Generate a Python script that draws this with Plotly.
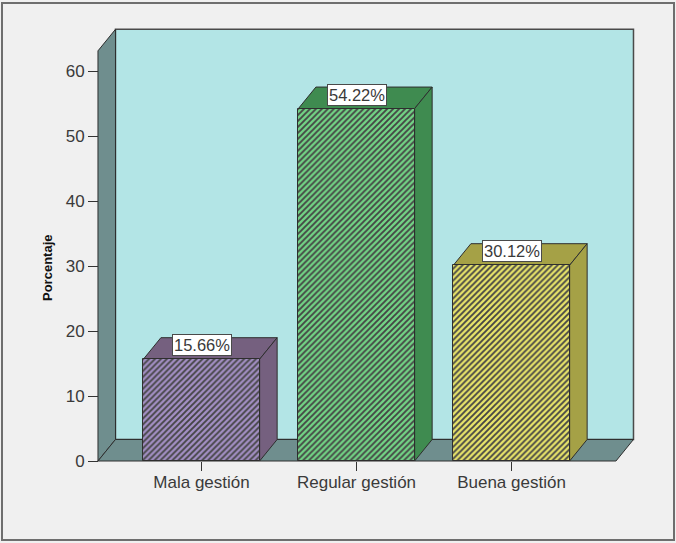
import plotly.graph_objects as go

# ---- data ----
categories = ["Mala gestión", "Regular gestión", "Buena gestión"]
percentages = [15.66, 54.22, 30.12]
value_labels = ["15.66%", "54.22%", "30.12%"]
y_ticks = [0, 10, 20, 30, 40, 50, 60]

# ---- colours ----
face_light = ["#a38fc4", "#72d485", "#e9e56a"]   # hatched front face background
face_stripe = ["#54446a", "#2c7540", "#8a8832"]  # hatch stroke colour
face_shade = ["#75607f", "#3f8b50", "#a5a146"]   # top / side faces
WALL_BACK = "#b3e5e6"
WALL_SIDE = "#6f8e8e"
EDGE = "#2e2e2e"
BG = "#f0f0f0"
TEXT = "#3a3a3a"
FONT = "Liberation Sans, Arial, sans-serif"

# ---- geometry (page is 676 x 543) ----
W, H = 676, 543
ML, MR, MT, MB = 92, 36, 24, 75
X_RANGE = [-0.7065, 2.829]
Y_RANGE = [-1.077, 67.23]
BAR_W = 0.75
DX, DY = 0.113, 3.31          # perspective depth, in axis units
FRONT_LEFT, FRONT_RIGHT = -0.668, 2.674
FRONT_TOP = 63.1


def px_to_paper(px, py):
    pw, ph = W - ML - MR, H - MT - MB
    return (px - ML) / pw, (H - MB - py) / ph


def poly(pts, fill, line=EDGE, width=1):
    path = "M " + " L ".join(f"{x},{y}" for x, y in pts) + " Z"
    return dict(type="path", xref="x", yref="y", path=path, fillcolor=fill,
                line=dict(color=line, width=width), layer="below")


shapes = []
# back wall
shapes.append(poly([(FRONT_LEFT + DX, DY), (FRONT_RIGHT + DX, DY),
                    (FRONT_RIGHT + DX, FRONT_TOP + DY), (FRONT_LEFT + DX, FRONT_TOP + DY)],
                   WALL_BACK, line="#4a4a4a", width=1.5))
# left side wall
shapes.append(poly([(FRONT_LEFT, 0), (FRONT_LEFT, FRONT_TOP),
                    (FRONT_LEFT + DX, FRONT_TOP + DY), (FRONT_LEFT + DX, DY)], WALL_SIDE))
# floor
shapes.append(poly([(FRONT_LEFT, 0), (FRONT_RIGHT, 0),
                    (FRONT_RIGHT + DX, DY), (FRONT_LEFT + DX, DY)], WALL_SIDE))

# top and right faces of each bar
xs = list(range(len(categories)))
for x, v, c in zip(xs, percentages, face_shade):
    x0, x1 = x - BAR_W / 2, x + BAR_W / 2
    shapes.append(poly([(x0, v), (x1, v), (x1 + DX, v + DY), (x0 + DX, v + DY)], c))
    shapes.append(poly([(x1, 0), (x1, v), (x1 + DX, v + DY), (x1 + DX, DY)], c))

# outer frame of the chart
fx0, fy0 = px_to_paper(2, 540)
fx1, fy1 = px_to_paper(674, 3)
shapes.append(dict(type="rect", xref="paper", yref="paper", x0=fx0, y0=fy0, x1=fx1, y1=fy1,
                   line=dict(color="#6e6e6e", width=2), fillcolor="rgba(0,0,0,0)", layer="above"))

fig = go.Figure()
fig.add_trace(go.Bar(
    x=xs, y=percentages, width=BAR_W,
    marker=dict(
        color=face_light, opacity=1,
        line=dict(color=EDGE, width=1),
        pattern=dict(shape="/", fgcolor=face_stripe, fgopacity=1,
                     size=4.2, solidity=0.45, fillmode="overlay"),
    ),
    hoverinfo="skip", showlegend=False,
))

annotations = []
for x, v, t in zip(xs, percentages, value_labels):
    annotations.append(dict(x=x, y=v, xref="x", yref="y", text=t, showarrow=False,
                            yshift=14, xanchor="center", yanchor="middle",
                            font=dict(family=FONT, size=16.5, color=TEXT),
                            bgcolor="white", bordercolor="#4a4a4a", borderwidth=1, borderpad=1))

tx, ty = px_to_paper(47, 268)
annotations.append(dict(x=tx, y=ty, xref="paper", yref="paper", text="<b>Porcentaje</b>",
                        showarrow=False, textangle=-90, xanchor="center", yanchor="middle",
                        font=dict(family=FONT, size=13, color="#111111")))

yax_pos, _ = px_to_paper(98, 0)
_, xax_pos = px_to_paper(0, 461)

fig.update_layout(
    width=W, height=H,
    margin=dict(l=ML, r=MR, t=MT, b=MB, pad=0),
    paper_bgcolor=BG, plot_bgcolor="rgba(0,0,0,0)",
    shapes=shapes, annotations=annotations,
    xaxis=dict(range=X_RANGE, tickvals=xs, ticktext=categories, ticks="outside",
               ticklen=9, tickcolor="#333333", showgrid=False, zeroline=False,
               showline=False, anchor="free", position=xax_pos, ticklabelstandoff=-3,
               tickfont=dict(family=FONT, size=17, color=TEXT), fixedrange=True),
    yaxis=dict(range=Y_RANGE, tickvals=y_ticks, ticks="outside", ticklen=10,
               tickcolor="#333333", showgrid=False, zeroline=False, showline=False,
               anchor="free", position=yax_pos,
               tickfont=dict(family=FONT, size=17, color=TEXT), fixedrange=True),
    bargap=0,
)

fig.write_html("out.html")
